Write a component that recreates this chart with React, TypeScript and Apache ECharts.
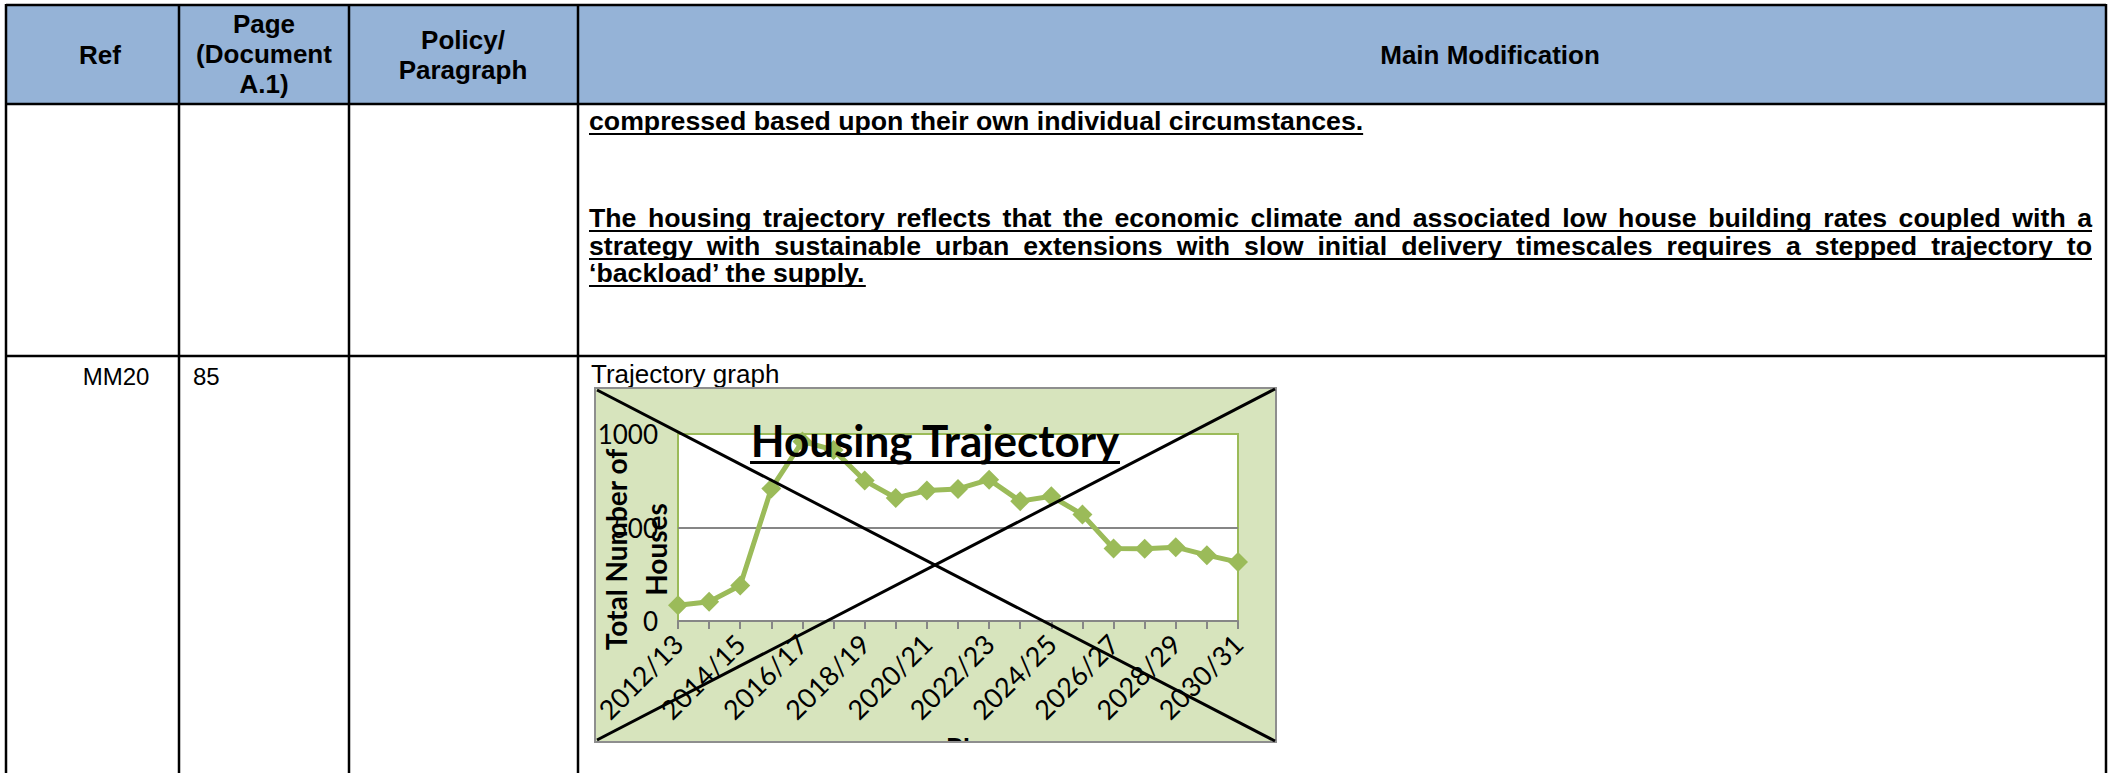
import React, { useEffect, useRef } from "react";
import * as echarts from "echarts";

// ---------- data ----------
const categories = [
  "2012/13", "2013/14", "2014/15", "2015/16", "2016/17", "2017/18", "2018/19",
  "2019/20", "2020/21", "2021/22", "2022/23", "2023/24", "2024/25", "2025/26",
  "2026/27", "2027/28", "2028/29", "2029/30", "2030/31",
];
const housesValues = [84, 103, 190, 708, 960, 915, 751, 658, 698, 706, 756, 641, 667, 569, 388, 386, 395, 352, 315];
const yAxisMin = 0;
const yAxisMax = 1000;
const yAxisStep = 500;

const chartTitle = "Housing Trajectory";
const yAxisTitle = "Total Number of\nHouses";
const xAxisTitle = "Phase";

const headerRef = "Ref";
const headerPage = ["Page", "(Document", "A.1)"];
const headerPolicy = ["Policy/", "Paragraph"];
const headerMain = "Main Modification";

const row1Line = "compressed based upon their own individual circumstances.";
const row1Paragraph = [
  "The housing trajectory reflects that the economic climate and associated low house building rates coupled with a",
  "strategy with sustainable urban extensions with slow initial delivery timescales requires a stepped trajectory to",
  "\u2018backload\u2019 the supply.",
];
const row2Ref = "MM20";
const row2Page = "85";
const row2Caption = "Trajectory graph";

// ---------- helpers ----------
const SANS = "'Liberation Sans', Arial, sans-serif";

function measurer() {
  const c = document.createElement("canvas");
  const ctx = c.getContext("2d") as CanvasRenderingContext2D;
  return (text: string, font: string) => {
    ctx.font = font;
    return ctx.measureText(text).width;
  };
}

function textEl(text: string, x: number, y: number, font: string, align = "left", extra: any = {}) {
  return {
    type: "text",
    x,
    y,
    z: 60,
    style: {
      text,
      font,
      fill: "#000000",
      align,
      textAlign: align,
      verticalAlign: "middle",
      textVerticalAlign: "middle",
    },
    ...extra,
  };
}

export default function App() {
  const ref = useRef<HTMLDivElement>(null);

  useEffect(() => {
    if (!ref.current) return;
    const chart = echarts.init(ref.current, undefined, { renderer: "svg" });
    const measure = measurer();

    const els: any[] = [];

    // header background
    els.push({ type: "rect", z: -20, shape: { x: 6, y: 5, width: 2100, height: 99 }, style: { fill: "#95b3d7" } });

    // table lines
    const lineStyle = { stroke: "#000000", lineWidth: 2.5 };
    const hLines = [
      [6, 5, 2106, 5],
      [6, 104, 2106, 104],
      [6, 356, 2106, 356],
    ];
    const vLines = [
      [6, 4, 6, 773],
      [179, 4, 179, 773],
      [349, 4, 349, 773],
      [578, 4, 578, 773],
      [2106, 4, 2106, 773],
    ];
    [...hLines, ...vLines].forEach(([x1, y1, x2, y2]) =>
      els.push({ type: "line", z: 50, shape: { x1, y1, x2, y2 }, style: lineStyle })
    );

    // header texts
    const hFont = `bold 26px ${SANS}`;
    els.push(textEl(headerRef, 100, 55, hFont, "center"));
    headerPage.forEach((t, i) => els.push(textEl(t, 264, 24 + i * 30, hFont, "center")));
    headerPolicy.forEach((t, i) => els.push(textEl(t, 463, 40 + i * 30, hFont, "center")));
    els.push(textEl(headerMain, 1490, 55, hFont, "center"));

    // body text (bold, underlined)
    const bFont = `bold 26.7px ${SANS}`;
    const left = 589;
    const right = 2092;
    const underline = (x1: number, x2: number, y: number) =>
      els.push({ type: "rect", z: 60, shape: { x: x1, y, width: x2 - x1, height: 2 }, style: { fill: "#000000" } });

    const w0 = measure(row1Line, bFont);
    els.push(textEl(row1Line, left, 121, bFont));
    underline(left, left + w0, 133);

    const lineYs = [218, 246, 273];
    row1Paragraph.forEach((line, i) => {
      const y = lineYs[i];
      const justify = i < row1Paragraph.length - 1;
      if (!justify) {
        const w = measure(line, bFont);
        els.push(textEl(line, left, y, bFont));
        underline(left, left + w, y + 12);
        return;
      }
      const words = line.split(" ");
      const widths = words.map((w) => measure(w, bFont));
      const total = widths.reduce((a, b) => a + b, 0);
      const gap = (right - left - total) / (words.length - 1);
      let x = left;
      words.forEach((w, k) => {
        els.push(textEl(w, x, y, bFont));
        x += widths[k] + gap;
      });
      underline(left, right, y + 12);
    });

    // row 2 texts
    els.push(textEl(row2Ref, 116, 376, `24px ${SANS}`, "center"));
    els.push(textEl(row2Page, 193, 376, `24px ${SANS}`));
    els.push(textEl(row2Caption, 591, 374, `26px ${SANS}`));

    // chart box
    els.push({ type: "rect", z: -10, shape: { x: 595, y: 388, width: 681, height: 354 }, style: { fill: "#d7e4bd" } });
    // white cover below the chart box (clips the axis name)
    els.push({ type: "rect", z: 80, shape: { x: 590, y: 743, width: 700, height: 40 }, style: { fill: "#ffffff" } });
    els.push({
      type: "rect", z: 90, shape: { x: 595, y: 388, width: 681, height: 354 },
      style: { fill: "none", stroke: "#8e8e8e", lineWidth: 2 },
    });

    // chart title with underline
    const tFont = `bold 44px Lato`;
    const tw = measure(chartTitle, tFont);
    els.push(textEl(chartTitle, 935, 440, tFont, "center", { z: 95 }));
    els.push({ type: "rect", z: 95, shape: { x: 935 - tw / 2, y: 461, width: tw, height: 3 }, style: { fill: "#000000" } });

    // crossing lines
    els.push({ type: "line", z: 100, shape: { x1: 597, y1: 390, x2: 1275, y2: 741 }, style: { stroke: "#000000", lineWidth: 3 } });
    els.push({ type: "line", z: 100, shape: { x1: 597, y1: 740, x2: 1275, y2: 389 }, style: { stroke: "#000000", lineWidth: 3 } });

    const option: any = {
      animation: false,
      backgroundColor: "#ffffff",
      grid: {
        left: 678, top: 434, width: 560, height: 187,
        show: true, backgroundColor: "#ffffff", borderColor: "#9bbb59", borderWidth: 2,
      },
      xAxis: {
        type: "category",
        data: categories,
        boundaryGap: false,
        axisLine: { lineStyle: { color: "#868686", width: 2 } },
        axisTick: { show: true, interval: 0, length: 8, lineStyle: { color: "#868686", width: 2 } },
        axisLabel: { interval: 1, rotate: 45, fontFamily: "Lato", fontSize: 27, color: "#000000", margin: 18 },
        splitLine: { show: false },
        name: xAxisTitle,
        nameLocation: "middle",
        nameGap: 113,
        nameMoveOverlap: false,
        nameTextStyle: {
          fontFamily: "Lato", fontWeight: "bold", fontSize: 28, color: "#000000",
          padding: [0, 0, 0, 50],
        },
      },
      yAxis: {
        type: "value",
        min: yAxisMin,
        max: yAxisMax,
        interval: yAxisStep,
        axisLine: { show: false },
        axisTick: { show: false },
        axisLabel: {
          fontFamily: "Lato", fontSize: 26, color: "#000000", margin: 20,
          formatter: (v: number) => String(v),
        },
        splitLine: { showMaxLine: false, lineStyle: { color: "#868686", width: 2 } },
        name: yAxisTitle,
        nameLocation: "middle",
        nameRotate: 90,
        nameGap: 2,
        nameMoveOverlap: false,
        nameTextStyle: {
          fontFamily: "Lato", fontWeight: "bold", fontSize: 28, lineHeight: 40, color: "#000000",
          padding: [0, 44, 0, 0],
        },
      },
      series: [
        {
          type: "line",
          data: housesValues,
          symbol: "diamond",
          symbolSize: 20,
          showAllSymbol: true,
          lineStyle: { color: "#9bbb59", width: 5 },
          itemStyle: { color: "#9bbb59" },
          z: 5,
        },
      ],
      graphic: els,
    };

    chart.setOption(option);
    return () => chart.dispose();
  }, []);

  return <div ref={ref} style={{ position: "absolute", left: 0, top: 0, width: 2112, height: 773 }} />;
}
